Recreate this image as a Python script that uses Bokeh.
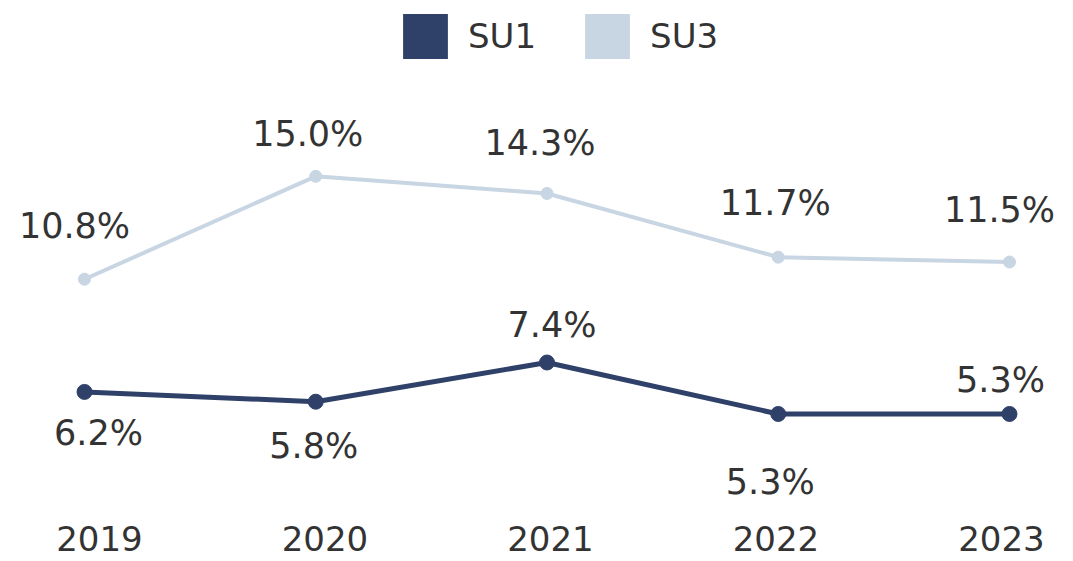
from bokeh.plotting import figure
from bokeh.models import ColumnDataSource, Range1d, FixedTicker, Legend, LegendItem, LinearAxis
from bokeh.core.properties import value
from bokeh.embed import file_html
from bokeh.resources import INLINE

years = [2019, 2020, 2021, 2022, 2023]
year_labels = ["2019", "2020", "2021", "2022", "2023"]
su1 = [6.2, 5.8, 7.4, 5.3, 5.3]
su3 = [10.8, 15.0, 14.3, 11.7, 11.5]

# label placement offsets (screen px) – styling only
su1_dx = [14, -2, 5, -8, -9]
su1_dy = [41, 44, -38, 68, -34]
su3_dx = [-10, -8, -7, -3, -10]
su3_dy = [-53, -42, -50, -54, -52]

C1 = "#2f4169"
C3 = "#c8d5e3"
TXT = "#333333"
FONT = "DejaVu Sans"

p = figure(width=1070, height=561, output_backend="svg", toolbar_location=None,
           x_range=Range1d(2018.6368, 2023.2638), y_range=Range1d(1.237, 22.176),
           min_border=0, min_border_bottom=48, outline_line_color=None,
           x_axis_location=None, y_axis_location=None)
p.xgrid.visible = False
p.ygrid.visible = False

# category axis, spaced slightly differently from the data points
p.extra_x_ranges = {"lab": Range1d(2018.561, 2023.306)}
ax = LinearAxis(x_range_name="lab")
ax.ticker = FixedTicker(ticks=years)
ax.major_label_overrides = {y: l for y, l in zip(years, year_labels)}
ax.axis_line_color = None
ax.major_tick_line_color = None
ax.minor_tick_line_color = None
ax.major_tick_in = 0
ax.major_tick_out = 0
ax.major_label_standoff = 12
ax.major_label_text_font = FONT
ax.major_label_text_font_size = "34px"
ax.major_label_text_color = TXT
p.add_layout(ax, "below")

s1 = ColumnDataSource(dict(x=years, y=su1, lab=[f"{v:.1f}%" for v in su1], dx=su1_dx, dy=su1_dy))
s3 = ColumnDataSource(dict(x=years, y=su3, lab=[f"{v:.1f}%" for v in su3], dx=su3_dx, dy=su3_dy))

p.line("x", "y", source=s3, line_color=C3, line_width=4)
p.scatter("x", "y", source=s3, size=12, fill_color=C3, line_color=C3)
p.line("x", "y", source=s1, line_color=C1, line_width=5)
p.scatter("x", "y", source=s1, size=15, fill_color=C1, line_color=C1)

for s in (s1, s3):
    p.text("x", "y", text="lab", source=s, x_offset="dx", y_offset="dy",
           text_font=value(FONT), text_font_size="35px", text_color=TXT,
           text_align="center", text_baseline="middle")

# legend swatches (glyphs kept outside the visible range)
e1 = p.quad(left=[0], right=[1], top=[-100], bottom=[-101], fill_color=C1, line_color=None)
e3 = p.quad(left=[0], right=[1], top=[-100], bottom=[-101], fill_color=C3, line_color=None)
leg = Legend(items=[LegendItem(label="SU1", renderers=[e1]), LegendItem(label="SU3", renderers=[e3])],
             orientation="horizontal", location=(397, 449), glyph_width=56, glyph_height=56,
             label_standoff=15, spacing=43, padding=0, margin=0,
             border_line_color=None, background_fill_alpha=0,
             label_text_font=FONT, label_text_font_size="34px", label_text_color=TXT)
p.add_layout(leg, "center")

open("out.html", "w").write(file_html(p, INLINE))
